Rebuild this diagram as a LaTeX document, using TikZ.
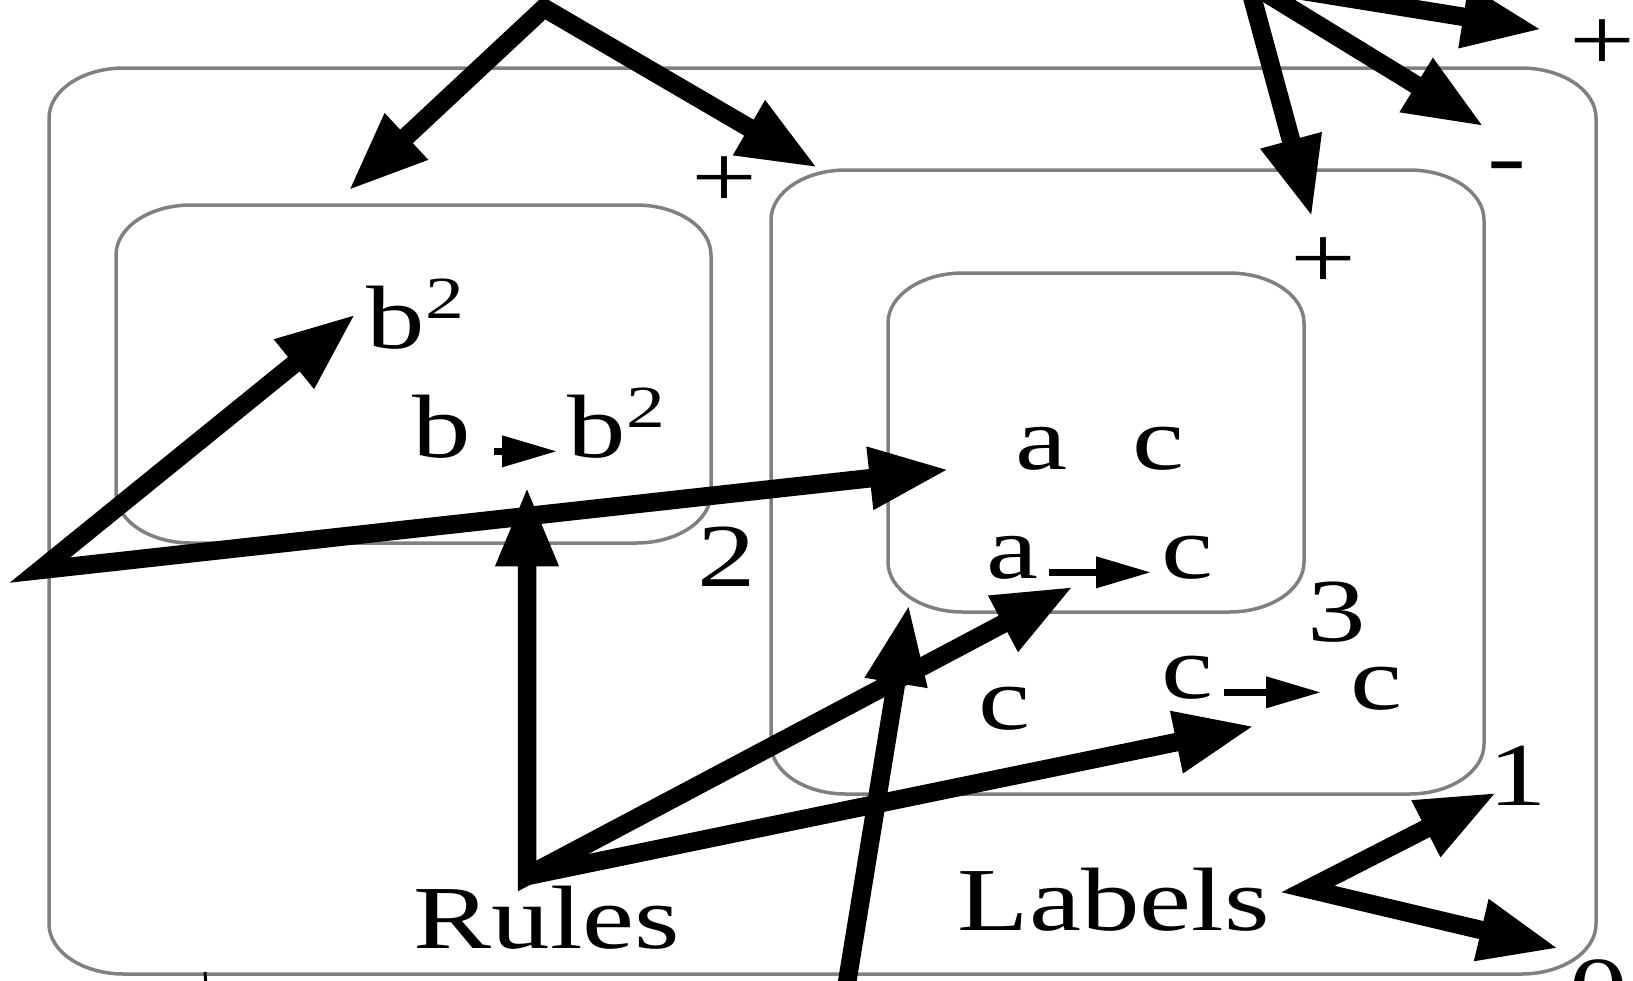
\documentclass[tikz,border=0pt]{standalone}
\usepackage{fontspec}
\newfontfamily\figfont[FakeStretch=1.3]{Liberation Serif}
\usetikzlibrary{arrows.meta}
\newcommand\sqr{\raisebox{0.33em}{\fontsize{17}{17}\selectfont 2}}

\begin{document}
\begin{tikzpicture}[x=0.1mm, y=-0.1mm,
    every node/.style={font=\figfont\fontsize{25.6}{30}\selectfont, inner sep=1mm},
    boxline/.style={draw=gray, line width=0.35mm},
    sym/.style={text height=0.75ex, text depth=0pt},
    bigarr/.style={line width=1.85mm, -{Triangle[length=8mm,width=5.8mm]}},
    twoway/.style={line width=1.85mm, {Triangle[length=8mm,width=5.8mm]}-{Triangle[length=8mm,width=5.8mm]}},
    rulearr/.style={line width=0.7mm, -{Triangle[length=5.5mm,width=3mm]}}]
  \useasboundingbox (0,0) rectangle (1633,980);
  \clip (0,0) rectangle (1633,980);

  % nested sets
  \foreach \xa/\ya/\xb/\yb in {49/68/1596/974, 771/170/1484/794, 116/205/711/543, 888/273/1304/612}
    \draw[boxline] (\xa+75,\ya) -- (\xb-75,\ya)
      arc[start angle=-90, end angle=0, x radius=75, y radius=50] -- (\xb,\yb-50)
      arc[start angle=0, end angle=90, x radius=75, y radius=50] -- (\xa+75,\yb)
      arc[start angle=90, end angle=180, x radius=75, y radius=50] -- (\xa,\ya+50)
      arc[start angle=180, end angle=270, x radius=75, y radius=50] -- cycle;

  % set labels
  \node[anchor=base] (pl2) at (724,207) {+};
  \node[anchor=base] (n2) at (727,586) {2};
  \node[anchor=base] (pl3) at (1323,288) {+};
  \node[anchor=base] (n3) at (1337,641) {3};
  \node[anchor=base] (mn1) at (1507,186) {-};
  \node[anchor=base] (n1) at (1518,805) {1};
  \node[anchor=base] (pl0) at (1602,70) {+};
  \node[anchor=base] (n0) at (1599,1019) {0};

  % contents
  \node[anchor=base west] (bsq) at (356,348) {b\sqr};
  \node[sym, anchor=base west] (rb1) at (402,457) {b};
  \node[sym, anchor=base west] (rb2) at (557,457) {b\sqr};
  \node[sym, anchor=base west] (ac) at (1005,469) {a\hspace{6.5mm}c};
  \node[sym, anchor=base west] (ra1) at (976,578) {a};
  \node[sym, anchor=base west] (ra2) at (1151,578) {c};
  \node[sym, anchor=base west] (cc) at (968,729) {c};
  \node[sym, anchor=base west] (rc1) at (1151,698) {c};
  \node[sym, anchor=base west] (rc2) at (1340,709) {c};
  \node[anchor=base] (rules) at (547,948) {Rules};
  \node[anchor=base west] (labels) at (947,930) {Labels};

  \coordinate (topL) at (544,8);
  \coordinate (t2) at (348,191);
  \coordinate (t1) at (818,168);
  \coordinate (lp) at (40,570);
  \coordinate (rp) at (527,876);
  \coordinate (bt) at (845,995);
  \coordinate (c3) at (909,604);
  \coordinate (topR) at (1248,-18);
  \coordinate (lbp) at (1308,889);

  % rules
  \draw[rulearr, shorten <=1.2mm] (rb1.east) -- coordinate (rbm) (rb2.west);
  \draw[rulearr] (ra1.east) -- coordinate (ram) (ra2.west);
  \draw[rulearr, shorten >=1.9mm] (rc1.east) -- coordinate (rcm) (rc1.east -| rc2.west);

  % pointers
  \draw[twoway] (t2) -- (topL) -- (t1);
  \draw[twoway, shorten >=5.6mm] (bsq.west) -- (lp) -- (ac.west);
  \draw[twoway, shorten <=3.5mm, shorten >=3mm] (rp |- rbm) -- (rp) -- (ram);
  \draw[bigarr, shorten >=2.8mm] (rp) -- ([yshift=-2.8mm]rcm);
  \draw[bigarr] (bt) -- (c3);
  \draw[bigarr] (topR) -- ([xshift=-1.1mm,yshift=0.9mm]pl3.north);
  \draw[bigarr] (topR) -- ([xshift=0.75mm,yshift=2.4mm]mn1.north west);
  \draw[bigarr] (topR) -- ([xshift=-1.6mm,yshift=1.5mm]pl0.west);
  \draw[twoway] ([xshift=1.9mm,yshift=-1.7mm]n1.west) -- (lbp) -- (n0.north west);
  \draw[line width=0.3mm] (205,972) -- (206,985);
\end{tikzpicture}
\end{document}
